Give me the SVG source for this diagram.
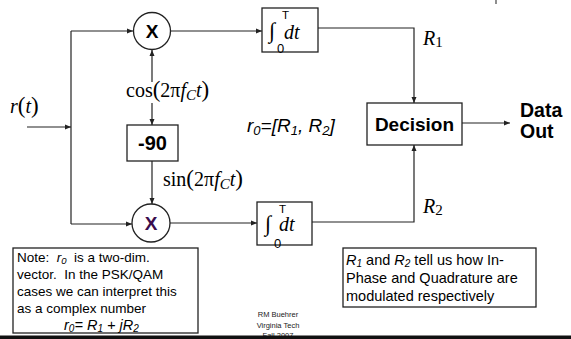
<svg xmlns="http://www.w3.org/2000/svg" width="571" height="339" viewBox="0 0 571 339">
<style>
.ln{fill:none;stroke:#222;stroke-width:1.2}
.bx{fill:#fff;stroke:#222;stroke-width:1.3}
.sans{font-family:"Liberation Sans",Arial,sans-serif}
.serif{font-family:"Liberation Serif","Times New Roman",serif}
.b{font-weight:bold}
.i{font-style:italic}
.pre{white-space:pre}
</style>
<defs>
<marker id="ah" markerUnits="userSpaceOnUse" markerWidth="7" markerHeight="6" refX="6" refY="3" orient="auto">
<path d="M0,0.5 L6,3 L0,5.5 Z" fill="#222"/>
</marker>
</defs>
<rect width="571" height="339" fill="#fff"/>
<g id="connectors">
<path class="ln" d="M27,127 H71" marker-end="url(#ah)"/>
<path class="ln" d="M71,31 V224"/>
<path class="ln" d="M71,31 H133" marker-end="url(#ah)"/>
<path class="ln" d="M71,224 H132" marker-end="url(#ah)"/>
<path class="ln" d="M170,31 H262" marker-end="url(#ah)"/>
<path class="ln" d="M170,223 H257" marker-end="url(#ah)"/>
<path class="ln" d="M152,82 V50" marker-end="url(#ah)"/>
<path class="ln" d="M152,103 V125" marker-end="url(#ah)"/>
<path class="ln" d="M152,161 V204" marker-end="url(#ah)"/>
<path class="ln" d="M318,28 H414 V103" marker-end="url(#ah)"/>
<path class="ln" d="M312,222 H414 V145" marker-end="url(#ah)"/>
<path class="ln" d="M462,123 H510" marker-end="url(#ah)"/>
</g>
<g id="mult1">
<circle cx="152" cy="31" r="18.5" class="bx"/>
<text x="152" y="38" text-anchor="middle" class="sans b" font-size="19" fill="#000">X</text>
</g>
<g id="mult2">
<circle cx="151" cy="223" r="19" class="bx"/>
<text x="151" y="230" text-anchor="middle" class="sans b" font-size="19" fill="#3a0d4d">X</text>
</g>
<g id="phase">
<rect x="127" y="125" width="51" height="36" class="bx"/>
<text x="152.5" y="150" text-anchor="middle" class="sans b" font-size="20" fill="#000">-90</text>
</g>
<g id="int1">
<rect x="262" y="8" width="56" height="44" class="bx"/>
<text x="269" y="38" class="serif" font-size="22" fill="#000">∫</text>
<text x="282" y="18.5" class="sans" font-size="11.5" fill="#000">T</text>
<text x="284" y="39" class="serif i" font-size="20" fill="#000">dt</text>
<text x="277" y="53" class="sans" font-size="13" fill="#000">0</text>
</g>
<g id="int2">
<rect x="257" y="202" width="55" height="43" class="bx"/>
<text x="265" y="231" class="serif" font-size="22" fill="#000">∫</text>
<text x="279" y="212.5" class="sans" font-size="11.5" fill="#000">T</text>
<text x="279" y="231" class="serif i" font-size="20" fill="#000">dt</text>
<text x="274" y="248" class="sans" font-size="13" fill="#000">0</text>
</g>
<g id="decision">
<rect x="367" y="103" width="95" height="42" class="bx"/>
<text x="414.5" y="131" text-anchor="middle" class="sans b" font-size="19" fill="#000">Decision</text>
</g>
<g id="output">
<text x="520" y="117" class="sans b" font-size="19.5" fill="#000">Data</text>
<text x="520" y="138" class="sans b" font-size="19.5" fill="#000">Out</text>
</g>
<g id="labels" fill="#000">
<text x="10" y="113" class="serif" font-size="20"><tspan class="i">r</tspan><tspan font-size="23">(</tspan><tspan class="i">t</tspan><tspan font-size="23">)</tspan></text>
<rect x="123" y="82" width="94" height="20" fill="#fff"/>
<text x="126" y="97" class="serif" font-size="20">cos<tspan font-size="23">(</tspan>2π<tspan class="i">f</tspan><tspan class="i" font-size="15" dy="3">C</tspan><tspan class="i" dy="-3">t</tspan><tspan font-size="23">)</tspan></text>
<text x="163" y="186" class="serif" font-size="20">sin<tspan font-size="23">(</tspan>2π<tspan class="i">f</tspan><tspan class="i" font-size="15" dy="3">C</tspan><tspan class="i" dy="-3">t</tspan><tspan font-size="23">)</tspan></text>
<text x="423" y="45" class="serif" font-size="20"><tspan class="i">R</tspan><tspan font-size="15" dy="2">1</tspan></text>
<text x="423" y="213" class="serif" font-size="20"><tspan class="i">R</tspan><tspan font-size="15" dy="2">2</tspan></text>
<text x="247" y="132" class="sans i" font-size="19">r<tspan font-size="13" dy="3">0</tspan><tspan dy="-3">=[R</tspan><tspan font-size="13" dy="3">1</tspan><tspan dy="-3">, R</tspan><tspan font-size="13" dy="3">2</tspan><tspan dy="-3">]</tspan></text>
</g>
<g id="note">
<rect x="13" y="248" width="185" height="85" class="bx"/>
<text class="sans pre" font-size="13.5" fill="#000">
<tspan x="17" y="262">Note:  <tspan class="i">r</tspan><tspan class="i" font-size="9.5" dy="2">0</tspan><tspan dy="-2">  is a two-dim.</tspan></tspan>
<tspan x="17" y="279">vector.  In the PSK/QAM</tspan>
<tspan x="17" y="296">cases we can interpret this</tspan>
<tspan x="17" y="313">as a complex number</tspan>
</text>
<text x="64" y="330" class="sans i pre" font-size="14.5" fill="#000">r<tspan font-size="10" dy="1.5">0</tspan><tspan dy="-1.5">= R</tspan><tspan font-size="10" dy="1.5">1</tspan><tspan dy="-1.5"> + jR</tspan><tspan font-size="10" dy="1.5">2</tspan></text>
</g>
<g id="rnote">
<rect x="343" y="248" width="193" height="59" class="bx"/>
<text class="sans" font-size="14.5" fill="#000">
<tspan x="346" y="265"><tspan class="i">R</tspan><tspan class="i" font-size="10" dy="2">1</tspan><tspan dy="-2"> and </tspan><tspan class="i">R</tspan><tspan class="i" font-size="10" dy="2">2</tspan><tspan dy="-2"> tell us how In-</tspan></tspan>
<tspan x="346" y="283">Phase and Quadrature are</tspan>
<tspan x="346" y="301">modulated respectively</tspan>
</text>
</g>
<g id="footer" class="sans" font-size="7.5" fill="#222" text-anchor="middle">
<text x="278" y="317">RM Buehrer</text>
<text x="278" y="328">Virginia Tech</text>
<text x="278" y="338">Fall 2007</text>
</g>
<rect x="0" y="335.5" width="571" height="3.5" fill="#111"/>
<line x1="496" y1="0" x2="496" y2="4" stroke="#444" stroke-width="1.2"/>
</svg>
